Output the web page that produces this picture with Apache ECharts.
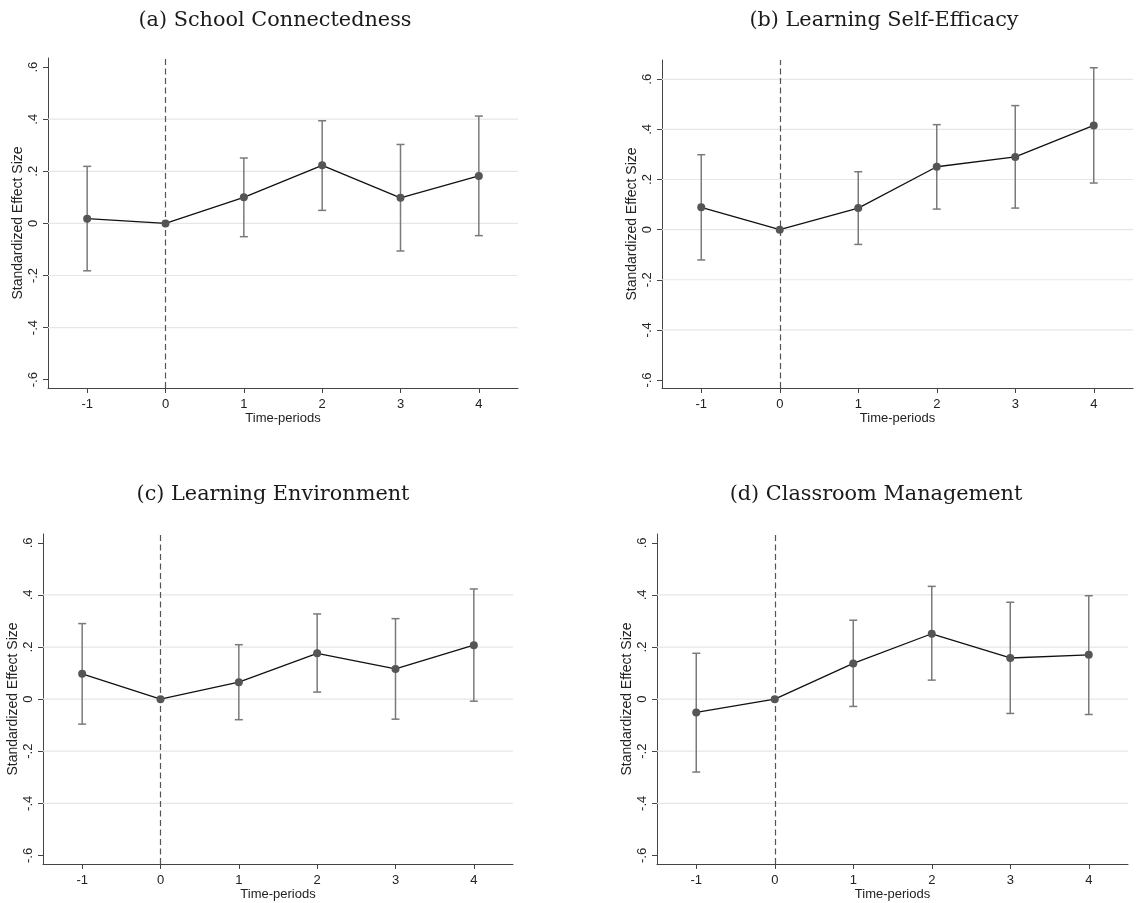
<!DOCTYPE html>
<html>
<head>
<meta charset="utf-8">
<script src="https://cdn.jsdelivr.net/npm/echarts@6/dist/echarts.min.js"></script>
<style>
html,body{margin:0;padding:0;background:#fff;}
#chart{width:1140px;height:903px;}
</style>
</head>
<body>
<div id="chart"></div>
<script>
// ---- data ----
const periods = [-1, 0, 1, 2, 3, 4];
const xTicks = [-1, 0, 1, 2, 3, 4];
const yTicks = [-0.6, -0.4, -0.2, 0, 0.2, 0.4, 0.6];
const titles = ['(a) School Connectedness', '(b) Learning Self-Efficacy', '(c) Learning Environment', '(d) Classroom Management'];

// point estimates
const estA = [0.018, 0, 0.100, 0.223, 0.098, 0.182];
const estB = [0.089, 0, 0.086, 0.251, 0.290, 0.416];
const estC = [0.097, 0, 0.065, 0.176, 0.116, 0.207];
const estD = [-0.051, 0, 0.137, 0.251, 0.158, 0.170];
// confidence interval bounds (null = no interval)
const loA = [-0.182, null, -0.051, 0.050, -0.106, -0.047];
const hiA = [0.219, null, 0.251, 0.394, 0.303, 0.412];
const loB = [-0.121, null, -0.059, 0.082, 0.086, 0.186];
const hiB = [0.299, null, 0.231, 0.419, 0.495, 0.646];
const loC = [-0.096, null, -0.079, 0.027, -0.077, -0.008];
const hiC = [0.290, null, 0.209, 0.327, 0.309, 0.423];
const loD = [-0.280, null, -0.028, 0.073, -0.055, -0.059];
const hiD = [0.176, null, 0.303, 0.433, 0.372, 0.397];
// horizontal grid lines per panel
const gridA = [-0.4, -0.2, 0, 0.2, 0.4];
const gridB = [-0.4, -0.2, 0, 0.2, 0.4, 0.6];
const gridC = [-0.4, -0.2, 0, 0.2, 0.4];
const gridD = [-0.4, -0.2, 0, 0.2, 0.4];

// ---- layout ----
const panels = [
  {est: estA, lo: loA, hi: hiA, gl: gridA, grid: {left: 48, top: 58, width: 470, height: 330}, ymin: -0.632, ymax: 0.635, tx: 270, ty: 5},
  {est: estB, lo: loB, hi: hiB, gl: gridB, grid: {left: 662, top: 60, width: 471, height: 328}, ymin: -0.632, ymax: 0.677, tx: 879, ty: 5},
  {est: estC, lo: loC, hi: hiC, gl: gridC, grid: {left: 43, top: 534, width: 470, height: 330}, ymin: -0.633, ymax: 0.634, tx: 268, ty: 479},
  {est: estD, lo: loD, hi: hiD, gl: gridD, grid: {left: 657, top: 534, width: 471, height: 330}, ymin: -0.633, ymax: 0.634, tx: 871, ty: 479}
];

const XMIN = -1.5, XMAX = 4.5;
const AXIS_COLOR = '#444';
const SANS = 'Liberation Sans, Arial, sans-serif';

function yFmt(v) {
  const r = Math.round(v * 10) / 10;
  if (r === 0) return '0';
  const s = Math.abs(r).toFixed(1).replace(/^0/, '');
  return (r < 0 ? '-' : '') + s;
}

const option = {
  backgroundColor: '#fff',
  animation: false,
  title: [],
  grid: [],
  xAxis: [],
  yAxis: [],
  series: []
};

panels.forEach((p, i) => {
  option.title.push({
    text: titles[i],
    left: p.tx, top: p.ty, textAlign: 'center',
    textStyle: {fontFamily: 'DejaVu Serif, serif', fontSize: 20.8, fontWeight: 'normal', color: '#1a1a1a'}
  });
  option.grid.push(Object.assign({containLabel: false}, p.grid));
  option.xAxis.push({
    type: 'value', gridIndex: i, min: XMIN, max: XMAX,
    name: 'Time-periods', nameLocation: 'middle', nameGap: 23,
    nameTextStyle: {fontFamily: SANS, fontSize: 13, color: '#222'},
    axisLine: {show: true, onZero: false, lineStyle: {color: AXIS_COLOR, width: 1}},
    axisTick: {show: true, customValues: xTicks, length: 5, lineStyle: {color: AXIS_COLOR}},
    axisLabel: {show: true, customValues: xTicks, margin: 10, fontFamily: SANS, fontSize: 13, color: '#222',
      formatter: v => String(Math.round(v))},
    splitLine: {show: false}
  });
  option.yAxis.push({
    type: 'value', gridIndex: i, min: p.ymin, max: p.ymax,
    name: 'Standardized Effect Size', nameLocation: 'middle', nameGap: 23, nameRotate: 90,
    nameTextStyle: {fontFamily: SANS, fontSize: 14, color: '#222'},
    axisLine: {show: true, onZero: false, lineStyle: {color: AXIS_COLOR, width: 1}},
    axisTick: {show: true, customValues: yTicks, length: 5, lineStyle: {color: AXIS_COLOR}},
    axisLabel: {show: true, customValues: yTicks, rotate: 90, margin: 8, fontFamily: SANS, fontSize: 13, color: '#222',
      formatter: v => yFmt(v)},
    splitLine: {show: false}
  });

  // grid lines
  option.series.push({
    type: 'custom', xAxisIndex: i, yAxisIndex: i, z: 1, silent: true,
    data: p.gl.map(v => [v]),
    renderItem: function (params, api) {
      const v = api.value(0);
      const a = api.coord([XMIN, v]);
      const b = api.coord([XMAX, v]);
      return {type: 'line', shape: {x1: a[0], y1: a[1], x2: b[0], y2: b[1]},
        style: {stroke: '#e6e6e6', lineWidth: 1.2}};
    },
    markLine: {
      silent: true, symbol: 'none', label: {show: false}, animation: false,
      lineStyle: {color: '#555', type: [6, 3.5], width: 1.2},
      data: [{xAxis: 0}]
    }
  });

  // error bars
  const ebData = [];
  periods.forEach((x, k) => {
    if (p.lo[k] !== null) ebData.push([x, p.lo[k], p.hi[k]]);
  });
  option.series.push({
    type: 'custom', xAxisIndex: i, yAxisIndex: i, z: 3, silent: true,
    data: ebData,
    renderItem: function (params, api) {
      const lo = api.coord([api.value(0), api.value(1)]);
      const hi = api.coord([api.value(0), api.value(2)]);
      const cw = 4;
      const st = {stroke: '#7a7a7a', lineWidth: 1.5};
      return {type: 'group', children: [
        {type: 'line', shape: {x1: lo[0], y1: lo[1], x2: hi[0], y2: hi[1]}, style: st},
        {type: 'line', shape: {x1: lo[0] - cw, y1: lo[1], x2: lo[0] + cw, y2: lo[1]}, style: st},
        {type: 'line', shape: {x1: hi[0] - cw, y1: hi[1], x2: hi[0] + cw, y2: hi[1]}, style: st}
      ]};
    }
  });

  // estimates
  option.series.push({
    type: 'line', xAxisIndex: i, yAxisIndex: i, z: 4, silent: true,
    data: periods.map((x, k) => [x, p.est[k]]),
    symbol: 'circle', symbolSize: 8,
    itemStyle: {color: '#555', borderWidth: 0},
    lineStyle: {color: '#111', width: 1.3}
  });
});

const chart = echarts.init(document.getElementById('chart'), null, {renderer: 'canvas'});
chart.setOption(option);
</script>
</body>
</html>
